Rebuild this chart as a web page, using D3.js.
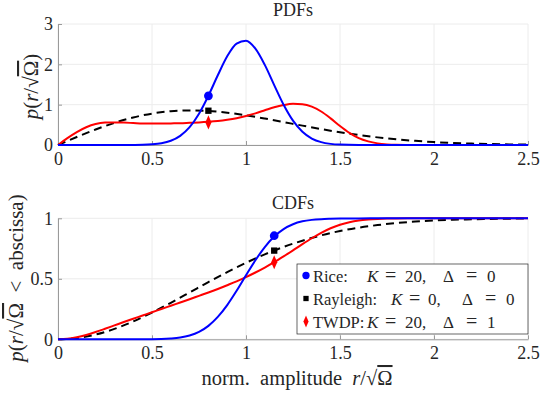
<!DOCTYPE html>
<html>
<head>
<meta charset="utf-8">
<script src="https://cdn.jsdelivr.net/npm/d3@7"></script>
<style>
  body { margin: 0; background: #fff; }
  svg text { font-family: "Liberation Serif", "DejaVu Serif", serif; fill: #262626; }
</style>
</head>
<body>
<div id="chart"></div>
<script>
// x ticks shared by both panels
const xTicks = [0, 0.5, 1, 1.5, 2, 2.5]
const xTickLabels = ["0", "0.5", "1", "1.5", "2", "2.5"]
const pdfTicks = [0, 1, 2, 3]
const pdfTickLabels = ["0", "1", "2", "3"]
const cdfTicks = [0, 0.5, 1]
const cdfTickLabels = ["0", "0.5", "1"]

// PDFs
const riceX = [0, 0.3, 0.4, 0.45, 0.5, 0.55, 0.6, 0.65, 0.7, 0.75, 0.8, 0.85, 0.9, 0.95, 1.0, 1.05, 1.1, 1.15, 1.2, 1.25, 1.3, 1.35, 1.4, 1.45, 1.5, 1.6, 1.7, 2.5]
const ricePdf = [0, 0, 0.002, 0.005, 0.016, 0.043, 0.104, 0.226, 0.442, 0.775, 1.222, 1.729, 2.199, 2.514, 2.585, 2.389, 1.987, 1.486, 0.999, 0.604, 0.329, 0.161, 0.071, 0.028, 0.01, 0.001, 0, 0]

const rayX = [0, 0.1, 0.2, 0.3, 0.4, 0.5, 0.6, 0.7, 0.8, 0.9, 1.0, 1.1, 1.2, 1.3, 1.4, 1.5, 1.6, 1.7, 1.8, 1.9, 2.0, 2.1, 2.2, 2.3, 2.4, 2.5]
const rayPdf = [0, 0.198, 0.384, 0.548, 0.682, 0.779, 0.838, 0.858, 0.844, 0.801, 0.736, 0.656, 0.569, 0.48, 0.395, 0.316, 0.247, 0.189, 0.141, 0.103, 0.073, 0.051, 0.035, 0.023, 0.015, 0.01]

const twdpX = [0, 0.05, 0.1, 0.15, 0.2, 0.25, 0.3, 0.35, 0.4, 0.45, 0.5, 0.55, 0.6, 0.65, 0.7, 0.75, 0.8, 0.85, 0.9, 0.95, 1.0, 1.05, 1.1, 1.15, 1.2, 1.25, 1.3, 1.35, 1.4, 1.45, 1.5, 1.55, 1.6, 1.65, 1.7, 1.75, 1.8, 1.9, 2.5]
const twdpPdf = [0, 0.17, 0.32, 0.44, 0.52, 0.555, 0.56, 0.555, 0.545, 0.535, 0.53, 0.53, 0.535, 0.54, 0.55, 0.56, 0.575, 0.595, 0.625, 0.665, 0.72, 0.785, 0.86, 0.935, 0.99, 1.02, 1.01, 0.95, 0.83, 0.66, 0.47, 0.3, 0.17, 0.09, 0.04, 0.015, 0.005, 0, 0]

// CDFs
const riceCdfX = [0, 0.5, 0.55, 0.6, 0.65, 0.7, 0.75, 0.8, 0.85, 0.9, 0.95, 1.0, 1.05, 1.1, 1.15, 1.2, 1.25, 1.3, 1.35, 1.4, 1.45, 1.5, 1.6, 1.7, 2.5]
const riceCdf = [0, 0.001, 0.002, 0.006, 0.014, 0.031, 0.061, 0.111, 0.185, 0.283, 0.401, 0.529, 0.653, 0.762, 0.849, 0.911, 0.951, 0.975, 0.987, 0.993, 0.996, 0.998, 0.999, 1, 1]

const rayCdf = [0, 0.01, 0.039, 0.086, 0.148, 0.221, 0.302, 0.387, 0.473, 0.555, 0.632, 0.702, 0.763, 0.815, 0.859, 0.895, 0.923, 0.944, 0.961, 0.973, 0.982, 0.988, 0.992, 0.995, 0.997, 0.998]

const twdpCdf = [0, 0.004, 0.017, 0.036, 0.06, 0.087, 0.115, 0.143, 0.17, 0.197, 0.224, 0.25, 0.277, 0.304, 0.331, 0.359, 0.387, 0.416, 0.447, 0.479, 0.514, 0.552, 0.593, 0.637, 0.685, 0.735, 0.786, 0.835, 0.88, 0.918, 0.947, 0.968, 0.982, 0.99, 0.995, 0.998, 0.999, 1, 1]

// markers
const pdfMarkX = 0.8
const pdfMarkY = [1.22, 0.85, 0.56]
const cdfMarkX = 1.15
const cdfMarkY = [0.856, 0.733, 0.637]

const seriesNames = ["Rice", "Rayleigh", "TWDP"]
const seriesK = ["20", "0", "20"]
const seriesDelta = ["0", "0", "1"]
const colors = ["#0000ff", "#000000", "#ff0000"]
const symbols = [d3.symbolCircle, d3.symbolSquare, d3.symbolDiamond]

const width = 540, height = 394
const svg = d3.select("#chart").append("svg").attr("width", width).attr("height", height)

const x = d3.scaleLinear().domain([0, 2.5]).range([58, 528])
const yTop = d3.scaleLinear().domain([0, 3]).range([145, 24])
const yBot = d3.scaleLinear().domain([0, 1]).range([339.3, 218.3])

function drawFrame(y, ticks, labels) {
  const g = svg.append("g")
  // grid
  g.selectAll(".vg").data(xTicks).join("line")
    .attr("x1", (d) => x(d)).attr("x2", (d) => x(d))
    .attr("y1", y.range()[0]).attr("y2", y.range()[1])
    .attr("stroke", "#ececec").attr("stroke-width", 1)
  g.selectAll(".hg").data(ticks).join("line")
    .attr("x1", x(0)).attr("x2", x(2.5))
    .attr("y1", (d) => y(d)).attr("y2", (d) => y(d))
    .attr("stroke", "#ececec").attr("stroke-width", 1)
  // axes
  const xAxis = d3.axisBottom(x).tickValues(xTicks).tickFormat((d, i) => xTickLabels[i]).tickSizeInner(-4).tickSizeOuter(0).tickPadding(7)
  const yAxis = d3.axisLeft(y).tickValues(ticks).tickFormat((d, i) => labels[i]).tickSizeInner(-4).tickSizeOuter(0).tickPadding(5)
  const ax = g.append("g").attr("transform", `translate(0,${y.range()[0]})`).call(xAxis)
  const ay = g.append("g").attr("transform", `translate(${x(0)},0)`).call(yAxis)
  ;[ax, ay].forEach((a) => {
    a.attr("font-family", null).attr("font-size", null)
    a.select(".domain").attr("stroke", "#9a9a9a")
    a.selectAll(".tick line").attr("stroke", "#9a9a9a")
    a.selectAll(".tick text")
      .style("font-family", '"Liberation Serif", serif')
      .style("font-size", "18px").attr("fill", "#262626")
  })
}

drawFrame(yTop, pdfTicks, pdfTickLabels)
drawFrame(yBot, cdfTicks, cdfTickLabels)

function drawCurve(xs, ys, y, i) {
  const line = d3.line().x((d) => x(d[0])).y((d) => y(d[1])).curve(d3.curveMonotoneX)
  svg.append("path")
    .datum(xs.map((v, j) => [v, ys[j]]))
    .attr("d", line)
    .attr("fill", "none")
    .attr("stroke", colors[i])
    .attr("stroke-width", 2)
    .attr("stroke-dasharray", i === 1 ? "8,5" : null)
}

drawCurve(rayX, rayPdf, yTop, 1)
drawCurve(twdpX, twdpPdf, yTop, 2)
drawCurve(riceX, ricePdf, yTop, 0)
drawCurve(rayX, rayCdf, yBot, 1)
drawCurve(twdpX, twdpCdf, yBot, 2)
drawCurve(riceCdfX, riceCdf, yBot, 0)

function symbolPath(i, s) {
  return d3.symbol().type(symbols[i]).size(s)()
}
function drawMarks(mx, my, y) {
  svg.selectAll(null).data(my).join("path")
    .attr("d", (d, i) => symbolPath(i, i === 0 ? 60 : 40))
    .attr("transform", (d, i) => `translate(${x(mx)},${y(d)})` + (i === 2 ? " scale(0.9,1.2)" : ""))
    .attr("fill", (d, i) => colors[i])
}
drawMarks(pdfMarkX, pdfMarkY, yTop)
drawMarks(cdfMarkX, cdfMarkY, yBot)

// titles
svg.append("text").attr("x", 293).attr("y", 16).attr("text-anchor", "middle").style("font-size", "18px").text("PDFs")
svg.append("text").attr("x", 293).attr("y", 209).attr("text-anchor", "middle").style("font-size", "18px").text("CDFs")

function mathLabel(sel, parts) {
  parts.forEach((p) => {
    const t = sel.append("tspan").text(p[0])
    if (p[1] === "i") t.style("font-style", "italic")
    if (p[1] === "o") t.style("text-decoration", "overline")
  })
}

// y labels
const yl1 = svg.append("text").attr("transform", "translate(38,86.5) rotate(-90)")
  .attr("text-anchor", "middle").style("font-size", "21px")
mathLabel(yl1, [["p", "i"], ["("], ["r", "i"], ["/√"], ["Ω", "o"], [")"]])

const yl2 = svg.append("text").attr("transform", "translate(23,278) rotate(-90)")
  .attr("text-anchor", "middle").style("font-size", "21px")
  .style("white-space", "pre")
mathLabel(yl2, [["p", "i"], ["("], ["r", "i"], ["/√"], ["Ω", "o"], ["  <  abscissa)"]])

// x label
const xl = svg.append("text").attr("x", 297).attr("y", 385).attr("text-anchor", "middle").style("font-size", "20.5px")
  .style("white-space", "pre")
mathLabel(xl, [["norm.  amplitude  "], ["r", "i"], ["/√"], ["Ω", "o"]])

// legend
const leg = svg.append("g")
leg.append("rect").attr("x", 297).attr("y", 264).attr("width", 231).attr("height", 70)
  .attr("fill", "#fff").attr("stroke", "#262626").attr("stroke-width", 0.7)
// token start positions per row: label, K, =, value, Δ, =, value
const tokenX = [
  [313, 367, 385, 405, 443, 466, 487],
  [313, 391, 409, 428, 462, 485, 506],
  [313, 367, 385, 405, 443, 466, 487],
]
seriesNames.forEach((n, i) => {
  const cy = 275.5 + i * 23
  leg.append("path")
    .attr("d", symbolPath(i, i === 0 ? 42 : 28))
    .attr("transform", `translate(306,${cy})` + (i === 2 ? " scale(0.9,1.2)" : ""))
    .attr("fill", colors[i])
  const tokens = [[n + ":"], ["K", "i"], ["="], [seriesK[i] + ","], ["Δ"], ["="], [seriesDelta[i]]]
  const t = leg.append("text").attr("y", cy + 6).style("font-size", "17px")
  tokens.forEach((tk, j) => {
    const s = t.append("tspan").attr("x", tokenX[i][j]).text(tk[0])
    if (tk[1] === "i") s.style("font-style", "italic")
    if (j === 0) s.style("font-size", "16.5px")
    if (tk[0] === "=") s.style("font-size", "20px")
  })
})
</script>
</body>
</html>
